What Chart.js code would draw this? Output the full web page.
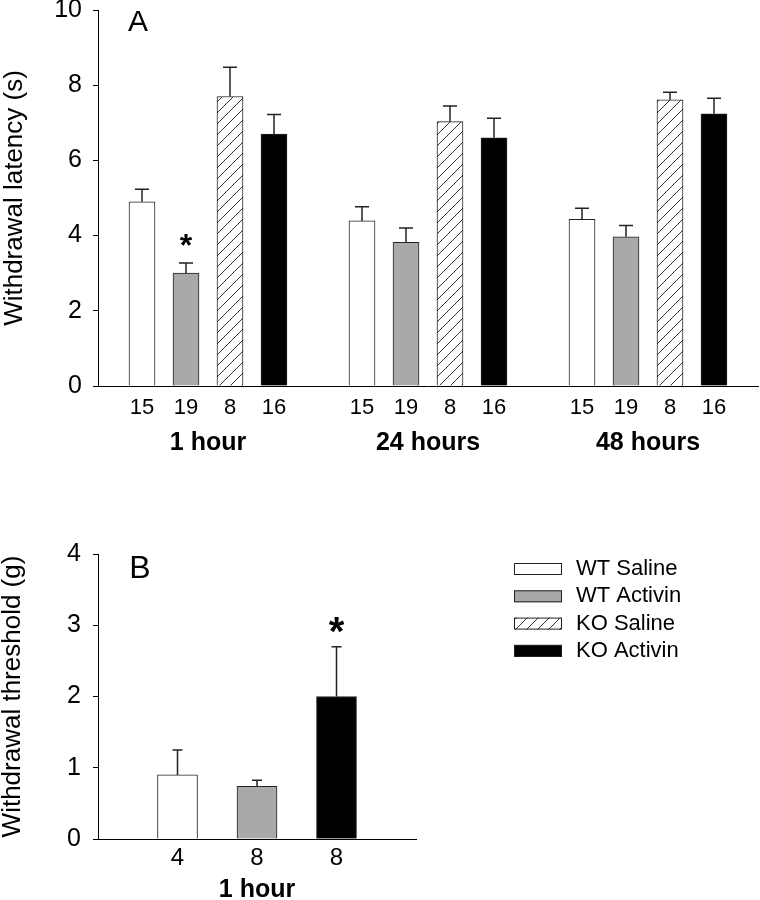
<!DOCTYPE html>
<html>
<head>
<meta charset="utf-8">
<script src="https://cdn.jsdelivr.net/npm/chart.js@4.4.0/dist/chart.umd.min.js"></script>
<style>
  body { margin: 0; background: #fff; }
  #wrap { position: relative; width: 760px; height: 900px; }
  #chartA { position: absolute; left: 0; top: 0; }
  #chartB { position: absolute; left: 0; top: 540px; }
</style>
</head>
<body>
<div id="wrap">
  <canvas id="chartA" width="760" height="470"></canvas>
  <canvas id="chartB" width="760" height="360"></canvas>
</div>
<script>
var seriesNames = ['WT Saline', 'WT Activin', 'KO Saline', 'KO Activin'];

// panel A: withdrawal latency (s), one value per time point
var groupsA = ['1 hour', '24 hours', '48 hours'];
var nA = ['15', '19', '8', '16'];
var wtSalineA = [4.90, 4.39, 4.43];
var wtSalineSemA = [0.33, 0.38, 0.30];
var wtActivinA = [3.00, 3.82, 3.97];
var wtActivinSemA = [0.27, 0.38, 0.30];
var koSalineA = [7.70, 7.03, 7.61];
var koSalineSemA = [0.78, 0.42, 0.20];
var koActivinA = [6.70, 6.60, 7.24];
var koActivinSemA = [0.52, 0.52, 0.41];
var starsA = [[1, 0]]; // [series, group]

// panel B: withdrawal threshold (g), 1 hour only, no KO Saline group
var groupsB = ['1 hour'];
var seriesB = [0, 1, 3];
var nB = ['4', '8', '8'];
var meanB = [0.90, 0.74, 2.00];
var semB = [0.35, 0.085, 0.70];
var starsB = [2]; // index in seriesB

var FONT = "'Liberation Sans', Arial, sans-serif";

function hatch() {
  var c = document.createElement('canvas');
  c.width = 11; c.height = 11;
  var g = c.getContext('2d');
  g.fillStyle = '#fff';
  g.fillRect(0, 0, 11, 11);
  g.strokeStyle = '#333';
  g.lineWidth = 1;
  g.beginPath();
  g.moveTo(0, 11); g.lineTo(11, 0);
  g.moveTo(-1, 1); g.lineTo(1, -1);
  g.moveTo(10, 12); g.lineTo(12, 10);
  g.stroke();
  return g.createPattern(c, 'repeat');
}
var fills = ['#ffffff', '#a9a9a9', hatch(), '#000000'];

// panel A layout: 4 bars per group, one empty slot between groups
var labelsA = [''];
groupsA.forEach(function() { labelsA = labelsA.concat(nA); labelsA.push(''); });
var meansA = [wtSalineA, wtActivinA, koSalineA, koActivinA];
var semsA = [wtSalineSemA, wtActivinSemA, koSalineSemA, koActivinSemA];

var datasetsA = seriesNames.map(function(name, s) {
  var data = labelsA.map(function() { return null; });
  var sem = data.slice(), stars = data.slice();
  groupsA.forEach(function(g, gi) {
    var idx = 1 + gi * 5 + s;
    data[idx] = meansA[s][gi];
    sem[idx] = semsA[s][gi];
  });
  starsA.forEach(function(st) { if (st[0] === s) stars[1 + st[1] * 5 + s] = true; });
  return { label: name, data: data, sem: sem, stars: stars, backgroundColor: fills[s],
           borderColor: '#222', borderWidth: 1, barThickness: 26, grouped: false };
});

// panel B layout
var labelsB = [''].concat(nB, ['']);
var datasetsB = seriesNames.map(function(name, s) {
  var data = labelsB.map(function() { return null; });
  var sem = data.slice(), stars = data.slice();
  var k = seriesB.indexOf(s);
  if (k >= 0) {
    data[k + 1] = meanB[k];
    sem[k + 1] = semB[k];
    if (starsB.indexOf(k) >= 0) stars[k + 1] = true;
  }
  return { label: name, data: data, sem: sem, stars: stars, backgroundColor: fills[s],
           borderColor: '#222', borderWidth: 1, barThickness: 40, grouped: false };
});

function errorBars(cap, starSize, starGap) {
  return {
    id: 'errorBars',
    afterDatasetsDraw: function(chart) {
      var ctx = chart.ctx, y = chart.scales.y;
      ctx.save();
      ctx.strokeStyle = '#222';
      ctx.lineWidth = 1.5;
      chart.data.datasets.forEach(function(ds, i) {
        chart.getDatasetMeta(i).data.forEach(function(bar, j) {
          if (ds.data[j] == null) return;
          var top = y.getPixelForValue(ds.data[j] + ds.sem[j]);
          ctx.beginPath();
          ctx.moveTo(bar.x, bar.y);
          ctx.lineTo(bar.x, top);
          ctx.moveTo(bar.x - cap, top);
          ctx.lineTo(bar.x + cap, top);
          ctx.stroke();
          if (ds.stars[j]) {
            ctx.fillStyle = '#000';
            ctx.font = 'bold ' + starSize + 'px ' + FONT;
            ctx.textAlign = 'center';
            ctx.textBaseline = 'alphabetic';
            ctx.fillText('*', bar.x, top - starGap);
          }
        });
      });
      ctx.restore();
    }
  };
}

function groupLabels(groups, perGroup, dy, size) {
  return {
    id: 'groupLabels',
    afterDraw: function(chart) {
      var ctx = chart.ctx, x = chart.scales.x;
      ctx.save();
      ctx.fillStyle = '#000';
      ctx.font = 'bold ' + size + 'px ' + FONT;
      ctx.textAlign = 'center';
      ctx.textBaseline = 'middle';
      groups.forEach(function(g, gi) {
        var first = 1 + gi * (perGroup + 1);
        var cx = (x.getPixelForValue(first) + x.getPixelForValue(first + perGroup - 1)) / 2;
        ctx.fillText(g, cx, chart.chartArea.bottom + dy);
      });
      ctx.restore();
    }
  };
}

function panelLetter(letter, dx, dy, size) {
  return {
    id: 'panelLetter',
    afterDraw: function(chart) {
      var ctx = chart.ctx;
      ctx.save();
      ctx.fillStyle = '#000';
      ctx.font = size + 'px ' + FONT;
      ctx.textAlign = 'center';
      ctx.textBaseline = 'middle';
      ctx.fillText(letter, chart.chartArea.left + dx, chart.chartArea.top + dy);
      ctx.restore();
    }
  };
}

var legendBoxes = {
  id: 'legendBoxes',
  afterDraw: function(chart) {
    var ctx = chart.ctx;
    ctx.save();
    ctx.font = '22px ' + FONT;
    ctx.textBaseline = 'middle';
    ctx.textAlign = 'left';
    chart.data.datasets.forEach(function(ds, i) {
      var yy = 29 + i * 27.3;
      ctx.fillStyle = ds.backgroundColor;
      ctx.fillRect(514, yy - 6, 48, 12);
      ctx.strokeStyle = '#222';
      ctx.lineWidth = 1;
      ctx.strokeRect(514.5, yy - 5.5, 47, 11);
      ctx.fillStyle = '#000';
      ctx.fillText(ds.label, 576, yy);
    });
    ctx.restore();
  }
};

function noPad(s) {
  s.paddingTop = 0; s.paddingBottom = 0; s.paddingLeft = 0; s.paddingRight = 0;
}

function options(o) {
  return {
    responsive: false,
    animation: false,
    layout: { autoPadding: false, padding: { top: o.top, right: o.right, left: 0, bottom: 0 } },
    plugins: { legend: { display: false }, tooltip: { enabled: false } },
    scales: {
      x: {
        type: 'category',
        offset: false,
        grid: { display: false, drawTicks: false },
        border: { display: true, color: '#000', width: 1 },
        ticks: { color: '#000', font: { family: FONT, size: o.xSize }, padding: o.xPad, autoSkip: false, maxRotation: 0 },
        afterFit: function(s) { s.height = o.xHeight; noPad(s); }
      },
      y: {
        min: 0, max: o.yMax,
        ticks: { stepSize: o.yStep, color: '#000', font: { family: FONT, size: 25 }, padding: o.yPad },
        grid: { drawOnChartArea: false, drawTicks: true, tickLength: 5, color: '#000' },
        border: { display: true, color: '#000', width: 1 },
        title: { display: true, text: o.title, color: '#000', font: { family: FONT, size: 26, lineHeight: 1 },
                 padding: { top: o.titlePad, bottom: 0 } },
        afterFit: function(s) { s.width = 98; noPad(s); }
      }
    }
  };
}

new Chart(document.getElementById('chartA').getContext('2d'), {
  type: 'bar',
  data: { labels: labelsA, datasets: datasetsA },
  options: options({ top: 10, right: 2, xSize: 22, xPad: 9, xHeight: 84, yMax: 10, yStep: 2, yPad: 11,
                     title: 'Withdrawal latency (s)', titlePad: 2 }),
  plugins: [errorBars(7, 32, 7), groupLabels(groupsA, 4, 57, 25), panelLetter('A', 40, 13, 30)]
});

new Chart(document.getElementById('chartB').getContext('2d'), {
  type: 'bar',
  data: { labels: labelsB, datasets: datasetsB },
  options: options({ top: 14, right: 344, xSize: 24, xPad: 5, xHeight: 61, yMax: 4, yStep: 1, yPad: 12,
                     title: 'Withdrawal threshold (g)', titlePad: 0 }),
  plugins: [errorBars(5, 40, 2), groupLabels(groupsB, 3, 51, 25), panelLetter('B', 42, 15, 32), legendBoxes]
});
</script>
</body>
</html>
